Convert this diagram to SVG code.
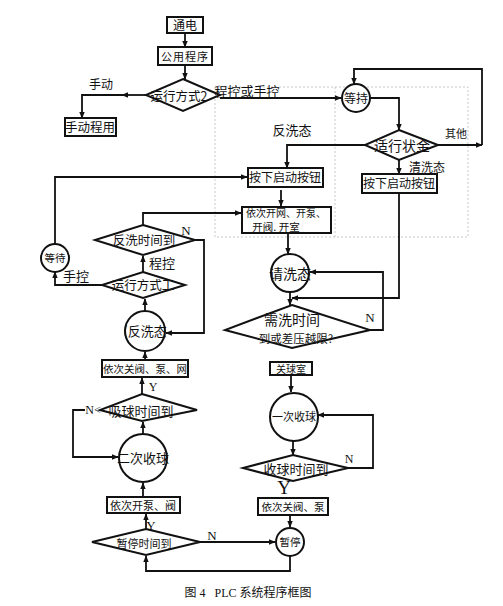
<svg xmlns="http://www.w3.org/2000/svg" width="503" height="606" viewBox="0 0 503 606">
<defs>
<marker id="a" viewBox="0 0 10 10" refX="9" refY="5" markerWidth="7" markerHeight="7" orient="auto" markerUnits="userSpaceOnUse"><path d="M0 1 L10 5 L0 9 Z" fill="#111"/></marker>
<style>
.l{fill:none;stroke:#111;stroke-width:1.8}
.b{fill:#fff;stroke:#111;stroke-width:2}
.d{fill:none;stroke:#bbb;stroke-width:0.8;stroke-dasharray:2 2}
.t{font-family:"Noto Sans CJK SC","Noto Sans",sans-serif;fill:#111;text-anchor:middle}
.s{font-family:"Liberation Serif",serif;fill:#111;text-anchor:middle}
</style>
</defs>
<rect width="503" height="606" fill="#fff"/>
<g id="frames">
<path class="d" d="M215 87 H468 V237 H215 Z M335 87 V237"/>
</g>
<g id="connectors">
<path class="l" marker-end="url(#a)" d="M185 33 V47"/>
<path class="l" marker-end="url(#a)" d="M185 65 V79"/>
<path class="l" marker-end="url(#a)" d="M146 95 H122"/>
<path class="l" marker-end="url(#a)" d="M124 95 H82 V118"/>
<path class="l" marker-end="url(#a)" d="M220 98 H341"/>
<path class="l" marker-end="url(#a)" d="M370 98 H399 V130"/>
<path class="l" marker-end="url(#a)" d="M438 145 H482"/>
<path class="l" marker-end="url(#a)" d="M482 145 V69 H354 V84"/>
<path class="l" marker-end="url(#a)" d="M399 160 V174"/>
<path class="l" marker-end="url(#a)" d="M365 145 H287 V168"/>
<path class="l" marker-end="url(#a)" d="M281 190 V206"/>
<path class="l" marker-end="url(#a)" d="M55 244 V177 H247"/>
<path class="l" marker-end="url(#a)" d="M102 285 H55 V272"/>
<path class="l" marker-end="url(#a)" d="M143 225 V213 H241"/>
<path class="l" marker-end="url(#a)" d="M195 240 H204 V333 H166"/>
<path class="l" marker-end="url(#a)" d="M143 272 V256"/>
<path class="l" marker-end="url(#a)" d="M145 311 V299"/>
<path class="l" marker-end="url(#a)" d="M145 360 V352"/>
<path class="l" marker-end="url(#a)" d="M142 394 V378"/>
<path class="l" marker-end="url(#a)" d="M85 410 H73 V457 H118"/>
<path class="l" marker-end="url(#a)" d="M143 434 V422"/>
<path class="l" marker-end="url(#a)" d="M143 497 V483"/>
<path class="l" marker-end="url(#a)" d="M146 529 V514"/>
<path class="l" marker-end="url(#a)" d="M200 542 H275"/>
<path class="l" marker-end="url(#a)" d="M290 556 V571 H146 V556"/>
<path class="l" marker-end="url(#a)" d="M288 233 V254"/>
<path class="l" marker-end="url(#a)" d="M290 292 V305"/>
<path class="l" marker-end="url(#a)" d="M399 193 V298 H292"/>
<path class="l" marker-end="url(#a)" d="M370 330 H383 V272 H310"/>
<path class="l" marker-end="url(#a)" d="M291 375 V392"/>
<path class="l" marker-end="url(#a)" d="M293 441 V455"/>
<path class="l" marker-end="url(#a)" d="M348 468 H373 V415 H318"/>
<path class="l" marker-end="url(#a)" d="M290 515 V527"/>
</g>
<g id="n-tongdian"><rect class="b" x="167" y="17" width="36" height="16"/><text class="t" x="185" y="30" font-size="12">通电</text></g>
<g id="n-gongyong"><rect class="b" x="158" y="47" width="54" height="18"/><text class="t" x="185" y="61" font-size="11" letter-spacing="1">公用程序</text></g>
<g id="n-mode2"><polygon class="b" points="183,79 220,95 183,111 146,95"/><text class="t" x="179" y="101" font-size="12.5">运行方式2</text></g>
<g id="n-manual"><rect class="b" x="65" y="118" width="51" height="18"/><text class="t" x="90" y="132" font-size="12.5">手动程用</text></g>
<g id="n-wait1"><circle class="b" cx="356" cy="98" r="14"/><text class="t" x="356" y="103" font-size="12">等持</text></g>
<g id="n-state"><polygon class="b" points="399,130 438,145 399,160 365,145"/><text class="t" x="402" y="151" font-size="14">适行状金</text></g>
<g id="n-startL"><rect class="b" x="248" y="168" width="75" height="19"/><text class="t" x="285" y="182" font-size="12">按下启动按钮</text></g>
<g id="n-startR"><rect class="b" x="362" y="174" width="75" height="19"/><text class="t" x="399" y="188" font-size="12">按下启动按钮</text></g>
<g id="n-open"><rect class="b" x="242" y="207" width="89" height="26"/><text class="t" x="286" y="216.5" font-size="10">依次开网、开泵、</text><text class="t" x="276" y="231" font-size="10.5">开阀. 开室</text></g>
<g id="n-wait2"><circle class="b" cx="55" cy="258" r="14"/><text class="t" x="55" y="262" font-size="10.5">等待</text></g>
<g id="n-bwtime"><polygon class="b" points="143,225 195,240 143,255 95,240"/><text class="t" x="144" y="245" font-size="12.5">反洗时间到</text></g>
<g id="n-mode1"><polygon class="b" points="143,272 185,285 143,298 102,285"/><text class="t" x="143" y="290" font-size="12.5">运行方式工</text></g>
<g id="n-backwash"><circle class="b" cx="145" cy="331" r="20"/><text class="t" x="145" y="336" font-size="13">(反洗态</text></g>
<g id="n-close1"><rect class="b" x="102" y="360" width="86" height="17"/><text class="t" x="145" y="373" font-size="10.5">依次关阀、泵、网</text></g>
<g id="n-suck"><polygon class="b" points="142,394 197,410 142,421 100,410"/><text class="t" x="141" y="416" font-size="13">吸球时间到</text></g>
<g id="n-second"><circle class="b" cx="143" cy="458" r="24"/><text class="t" x="143" y="463" font-size="13">二次收球</text></g>
<g id="n-openpv"><rect class="b" x="107" y="497" width="73" height="16"/><text class="t" x="143" y="510" font-size="11">依次开泵、阀</text></g>
<g id="n-pausetime"><polygon class="b" points="146,529 200,542 146,555 92,542"/><text class="t" x="144" y="548" font-size="11">暂停时间到</text></g>
<g id="n-pause"><circle class="b" cx="290" cy="542" r="14"/><text class="t" x="290" y="546" font-size="10.5">暂停</text></g>
<g id="n-clean"><circle class="b" cx="290" cy="273" r="19"/><text class="t" x="290" y="279" font-size="14">请洗态</text></g>
<g id="n-need"><polygon class="b" points="292,305 370,330 292,348 225,330"/><text class="t" x="292" y="325" font-size="14">需洗时间</text><text class="t" x="296" y="343" font-size="11.5">到或差压越限?</text></g>
<g id="n-closeroom"><rect class="b" x="270" y="362" width="42" height="13"/><text class="t" x="291" y="373" font-size="10">关球室</text></g>
<g id="n-first"><circle class="b" cx="294" cy="417" r="24"/><text class="t" x="294" y="421" font-size="11">一次收球</text></g>
<g id="n-collect"><polygon class="b" points="293,455 348,468 293,481 243,468"/><text class="t" x="296" y="474" font-size="13">收球时间到</text></g>
<g id="n-close2"><rect class="b" x="258" y="498" width="70" height="17"/><text class="t" x="293" y="511" font-size="10.5">依次关阀、泵</text></g>
<g id="labels">
<text class="t" x="101" y="89" font-size="12">手动</text>
<text class="t" x="247" y="96" font-size="13">程控或手控</text>
<text class="t" x="292" y="135" font-size="13">反洗态</text>
<text class="t" x="456" y="138" font-size="11">其他</text>
<text class="t" x="427" y="172" font-size="12">清洗态</text>
<text class="s" x="186" y="235" font-size="13">N</text>
<text class="t" x="162" y="268" font-size="13">程控</text>
<text class="t" x="76" y="281" font-size="13">手控</text>
<text class="s" x="153" y="391" font-size="12">Y</text>
<text class="s" x="93" y="414" font-size="12">N&lt;</text>
<text class="s" x="370" y="322" font-size="13">N</text>
<text class="s" x="349" y="463" font-size="12">N</text>
<text class="s" x="284" y="494" font-size="19" fill="#2a2010">Y</text>
<text class="s" x="151" y="530" font-size="13">Y</text>
<text class="s" x="212" y="540" font-size="13">N</text>
<text class="t" x="248" y="597" font-size="12" xml:space="preserve" style="font-family:'Liberation Serif','Noto Sans CJK SC',serif">图 4   PLC 系统程序框图</text>
</g>
</svg>
